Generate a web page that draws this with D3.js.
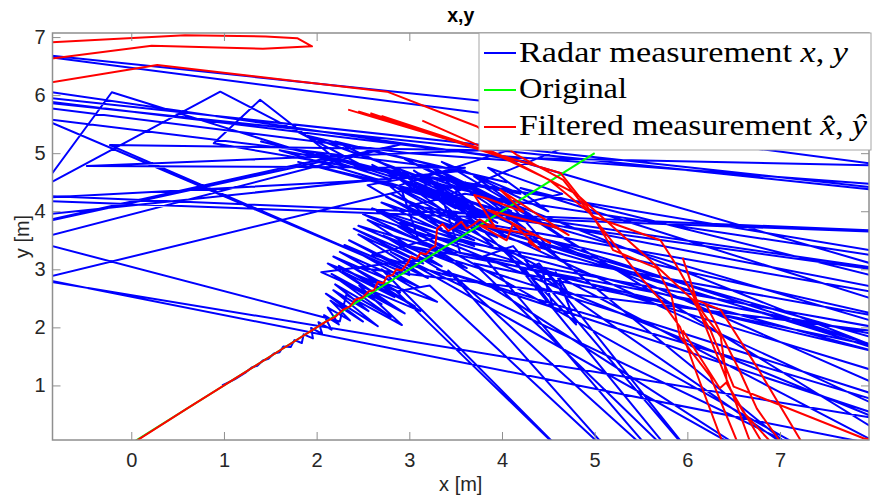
<!DOCTYPE html>
<html>
<head>
<meta charset="utf-8">
<script src="https://cdn.jsdelivr.net/npm/d3@7"></script>
<style>
  body { margin: 0; background: #fff; }
  svg { display: block; }
</style>
</head>
<body>
<svg id="chart" width="872" height="498"></svg>
<script>
// Axis ranges and ticks (metres)
const xDomain = [-0.85, 7.96];
const yDomain = [0.06, 7.07];
const xTicks = [0, 1, 2, 3, 4, 5, 6, 7];
const yTicks = [1, 2, 3, 4, 5, 6, 7];

// True target track
const originalPath = [[0, 0], [5, 5]];

// Raw radar measurements (x, y) in order of arrival; far outliers fall outside the axes
const radarPath = [
  [0.98,1.00],[1.06,1.06],[1.12,1.11],[1.18,1.17],[1.24,1.23],[1.30,1.31],[1.36,1.34],[1.42,1.43],
  [1.48,1.46],[1.54,1.55],[1.60,1.57],[1.64,1.67],[1.72,1.66],[1.76,1.78],[1.84,1.73],[1.86,1.88],
  [1.96,1.81],[1.94,1.99],[2.06,1.89],[2.02,2.09],[2.16,1.96],[2.08,2.21],[2.24,2.05],[2.12,2.34],
  [2.36,2.12],[2.15,2.46],[2.50,2.10],
  [2.10,2.58],[2.66,2.02],[2.18,2.64],[2.56,2.28],[2.20,2.74],[2.80,2.18],[2.24,2.82],[2.70,2.40],
  [2.16,2.92],[2.95,2.24],[2.28,2.96],[2.84,2.52],[2.24,3.06],[3.06,2.36],[2.38,3.04],
  [11.0,1.35],[3.30,3.55],
  [2.60,3.25],[3.45,2.88],[2.72,3.58],[3.62,3.02],[2.88,3.74],[3.55,3.28],[3.30,4.50],
  [-3.0,2.05],[-3.0,3.48],[11.0,-0.96],[11.0,-0.35],[-3.0,3.35],[-3.0,4.30],[2.25,2.10],
  [2.32,2.56],[2.92,2.04],[2.46,2.72],[3.12,2.28],[2.56,2.86],[3.30,2.44],[2.70,3.00],
  [4.75,-0.30],[2.86,2.62],[3.22,2.72],[5.25,-0.30],[3.42,2.98],[5.70,-0.30],[3.80,3.22],
  [4.12,3.40],[6.10,-0.30],[4.40,3.10],
  [4.25,3.00],[4.55,2.35],[4.42,3.05],[4.73,2.55],[4.58,2.95],[4.80,2.05],[4.35,2.80],
  [3.20,4.60],[11.0,2.52],[3.60,4.30],[3.00,4.10],[11.0,2.34],[3.80,4.00],[11.0,1.77],[3.40,3.90],
  [11.0,1.15],[3.50,3.30],[11.0,0.45],[3.90,3.70],[11.0,0.15],[4.50,3.50],[11.0,-1.05],[3.30,3.00],
  [11.0,-0.67],[3.00,3.40],[11.0,0.98],[4.20,4.40],[11.0,1.70],[4.00,4.95],[11.0,4.11],
  [11.0,3.87],[-3.0,6.22],[-3.0,6.32],[11.0,3.89],[11.0,3.47],[-3.0,4.40],[-3.0,4.30],[11.0,3.47],
  [11.0,4.20],[-3.0,7.09],[-3.0,7.04],[11.0,4.69],[4.10,4.92],[-3.0,6.30],[-3.0,6.55],[4.30,4.85],
  [3.00,5.00],[-3.0,6.20],[-3.0,6.00],[3.60,4.70],
  [-1.20,3.90],[-0.21,6.05],[2.80,4.55],[-1.20,4.21],[0.96,6.06],[2.60,4.70],[0.89,5.17],[1.39,5.92],
  [2.18,4.94],[-3.0,3.10],[2.90,5.15],[-3.0,2.70],[-3.0,6.98],[3.00,2.90],
  [-0.23,5.14],[3.80,5.05],[-0.48,4.78],[3.60,4.75],
  [2.55,4.45],[3.35,3.70],[2.70,4.55],[3.60,3.75],[2.85,4.60],[3.50,4.05],[2.60,4.80],[3.75,3.90],
  [3.05,4.70],[3.95,3.80],[3.10,4.45],[4.05,3.55],[3.25,4.75],[4.10,4.00],[2.95,4.90],[3.85,4.25],
  [3.40,4.60],[4.25,3.70],[3.60,4.50],[4.40,3.85],[3.20,4.35],[3.90,3.40],[2.75,4.25],[3.70,3.50],
  [2.60,4.05],[3.45,3.45],[2.50,3.95],[3.30,3.35],[2.45,3.75],[3.25,3.20],
  [2.05,2.95],[2.75,2.45],[2.12,3.10],[2.90,2.60],[2.18,3.22],[2.80,2.80],[2.25,3.30],[3.10,2.70],
  [2.30,3.42],[3.00,2.95],[2.35,3.50],[3.20,2.85],[2.45,3.60],[3.15,3.10],[2.40,3.70],[3.35,3.05],
  [2.55,3.85],[3.50,3.25],[2.65,4.00],[3.70,3.40],[2.70,4.15],[3.65,3.65],[2.80,4.30],[3.95,3.55],
  [2.90,4.40],[3.80,3.95],[3.00,4.55],[4.15,3.75],[3.10,4.65],[4.00,4.15],[3.20,4.80],[4.30,3.95],
  [3.35,4.85],[4.20,4.30],
  [1.60,5.05],[3.60,4.10],[1.80,4.85],[3.90,4.05],[2.00,5.00],[3.75,4.30],[1.40,5.20],[3.45,4.40],
  [1.90,5.30],[4.05,4.50],[2.20,5.20],[3.55,4.20],
  [11.0,0.70],[3.70,3.10],[5.90,-0.30],[4.05,3.30],[7.30,-0.30],[4.30,3.60],
  [3.95,3.95],[4.60,3.20],[4.10,4.10],[4.80,3.40],[3.70,4.60],[4.50,4.00],[3.85,4.75],[4.65,4.30],
  [3.60,3.90],[11.0,-1.50],[3.20,3.60],[11.0,-0.20],[4.00,4.20],[9.50,-1.20],[3.50,3.80],[11.0,0.30],
  [2.90,3.80],[7.50,-0.30],[2.80,3.30],[6.80,-0.30],[3.10,3.50],
  [2.90,4.45],[6.50,6.30],[3.30,4.20]
];

// Filtered estimates (x-hat, y-hat); null separates track pieces
const filteredPath = [
  [0.05,0.04],[0.60,0.60],[1.20,1.20],[1.80,1.80],[2.10,2.10],[2.20,2.18],[2.28,2.30],[2.36,2.36],
  [2.42,2.48],[2.50,2.52],[2.56,2.62],[2.62,2.64],[2.66,2.78],[2.72,2.76],[2.76,2.88],[2.82,2.90],
  [2.86,3.00],[2.92,2.98],[2.98,3.10],[3.02,3.22],[3.08,3.18],[3.12,3.28],[3.18,3.26],[3.24,3.36],
  [3.28,3.40],[3.30,3.70],[3.36,3.78],[3.42,3.66],[3.50,3.74],[3.56,3.82],[3.62,3.70],[3.70,3.78],
  [3.76,3.86],[3.84,3.78],[3.92,3.74],
  [3.70,4.28],[3.84,4.22],[4.23,3.99],[3.98,4.37],[4.72,3.59],[4.58,3.72],[3.85,4.02],[4.52,3.45],
  [4.38,3.58],[3.76,3.76],[4.05,3.50],[4.12,3.79],[4.41,3.33],[4.28,3.48],
  null,
  [-1.50,6.86],[0.58,7.03],[1.45,7.01],[1.79,6.98],[1.95,6.84],[1.42,6.80],[0.22,6.85],[-1.50,6.50],
  null,
  [-1.50,6.05],[0.28,6.52],[2.76,6.06],[3.73,5.46],[4.16,4.97],[4.66,4.54],[5.02,3.82],[5.46,2.93],
  [5.71,2.47],[5.92,2.01],[6.10,1.21],[6.37,0.06],[6.45,-0.30],
  null,
  [2.34,5.75],[3.95,4.98],[4.63,4.66],[4.92,4.08],[5.20,3.33],[5.67,3.02],[5.83,2.53],[5.92,1.84],
  [6.25,1.15],[6.53,0.06],[6.60,-0.30],
  null,
  [2.58,5.69],[4.00,4.93],[4.50,4.55],[5.00,3.90],[5.71,3.50],[5.87,3.10],[6.17,2.25],[6.36,1.84],
  [6.43,1.03],[6.79,0.06],[6.85,-0.30],
  null,
  [3.14,5.56],[4.05,4.92],[4.80,4.30],[5.50,3.30],[6.06,2.47],[6.25,1.95],[6.50,0.98],[7.90,0.09],
  [8.30,0.00],
  null,
  [2.45,5.72],[3.98,4.96],
  null,
  [2.70,5.64],[3.92,5.00],
  null,
  [5.95,3.20],[6.10,2.47],[6.36,2.30],[6.75,1.32],[7.22,0.06],[7.30,-0.20],
  null,
  [5.95,1.95],[6.35,0.95],[6.42,1.05],[6.60,0.55],[6.88,0.06],[6.95,-0.20],
  null,
  [6.05,2.60],[6.30,1.60],[6.50,0.80],[6.67,0.06],[6.70,-0.20],
  null,
  [6.20,2.40],[6.55,1.30],[6.75,0.60],[6.99,0.06],[7.05,-0.20]
];

// Plot frame in pixels
const L = 52.5, R = 869, T = 33, B = 440;
const axisGrey = "#8f8f8f";
const textDark = "#262626";

const svg = d3.select("#chart");
const x = d3.scaleLinear().domain(xDomain).range([L, R]);
const y = d3.scaleLinear().domain(yDomain).range([B, T]);

svg.append("defs").append("clipPath").attr("id", "plotClip")
  .append("rect").attr("x", L).attr("y", T).attr("width", R - L).attr("height", B - T);

const line = d3.line()
  .defined(d => d !== null)
  .x(d => x(d[0]))
  .y(d => y(d[1]));

const plot = svg.append("g").attr("clip-path", "url(#plotClip)");

plot.append("path").datum(radarPath)
  .attr("d", line).attr("fill", "none")
  .attr("stroke", "#0000ff").attr("stroke-width", 2).attr("stroke-linejoin", "round");

plot.append("path").datum(originalPath)
  .attr("d", line).attr("fill", "none")
  .attr("stroke", "#00ff00").attr("stroke-width", 2);

plot.append("path").datum(filteredPath)
  .attr("d", line).attr("fill", "none")
  .attr("stroke", "#ff0000").attr("stroke-width", 2).attr("stroke-linejoin", "round");

// Axes: ticks point inward on all four sides
const tickLen = 8;
function styleAxis(g) {
  g.select(".domain").remove();
  g.selectAll(".tick line").attr("stroke", axisGrey).attr("stroke-width", 1);
  g.selectAll(".tick text")
    .attr("fill", textDark)
    .style("font-family", "'Liberation Sans', Arial, sans-serif")
    .style("font-size", "20px");
}

svg.append("g").attr("transform", `translate(0,${B})`)
  .call(d3.axisBottom(x).tickValues(xTicks).tickSizeInner(-tickLen).tickSizeOuter(0)
    .tickPadding(12.5).tickFormat(d3.format("d")))
  .call(styleAxis);

svg.append("g").attr("transform", `translate(${L},0)`)
  .call(d3.axisLeft(y).tickValues(yTicks).tickSizeInner(-tickLen).tickSizeOuter(0)
    .tickPadding(7).tickFormat(d3.format("d")))
  .call(styleAxis);

svg.append("g").attr("transform", `translate(0,${T})`)
  .call(d3.axisTop(x).tickValues(xTicks).tickSizeInner(-tickLen).tickSizeOuter(0).tickFormat(""))
  .call(styleAxis);

svg.append("g").attr("transform", `translate(${R},0)`)
  .call(d3.axisRight(y).tickValues(yTicks).tickSizeInner(-tickLen).tickSizeOuter(0).tickFormat(""))
  .call(styleAxis);

svg.append("rect")
  .attr("x", L).attr("y", T).attr("width", R - L).attr("height", B - T)
  .attr("fill", "none").attr("stroke", axisGrey).attr("stroke-width", 1.5);

// Title and axis labels
const sans = "'Liberation Sans', Arial, sans-serif";
svg.append("text").attr("x", (L + R) / 2).attr("y", 21.5)
  .attr("text-anchor", "middle").attr("fill", "#000")
  .style("font-family", sans).style("font-size", "19.5px").style("font-weight", "bold")
  .text("x,y");

svg.append("text").attr("x", (L + R) / 2).attr("y", 491)
  .attr("text-anchor", "middle").attr("fill", textDark)
  .style("font-family", sans).style("font-size", "20px")
  .text("x [m]");

svg.append("text").attr("transform", `translate(29,${(T + B) / 2}) rotate(-90)`)
  .attr("text-anchor", "middle").attr("fill", textDark)
  .style("font-family", sans).style("font-size", "20px")
  .text("y [m]");

// Legend
const legend = svg.append("g");
legend.append("rect")
  .attr("x", 479).attr("y", T).attr("width", 392).attr("height", 117)
  .attr("fill", "#fff").attr("stroke", "#a6a6a6").attr("stroke-width", 1);

const legendItems = [
  { color: "#0000ff", ly: 53, ty: 61.7, len: 329, parts: [["Radar measurement ", false], ["x", true], [", ", false], ["y", true]] },
  { color: "#00ff00", ly: 90, ty: 98.3, len: 108, parts: [["Original", false]] },
  { color: "#ff0000", ly: 127, ty: 135, len: 348, parts: [["Filtered measurement ", false], ["x\u0302", true], [", ", false], ["y\u0302", true]] }
];

legendItems.forEach(item => {
  legend.append("line")
    .attr("x1", 484).attr("x2", 516).attr("y1", item.ly).attr("y2", item.ly)
    .attr("stroke", item.color).attr("stroke-width", 2);
  const t = legend.append("text")
    .attr("x", 519).attr("y", item.ty)
    .attr("textLength", item.len).attr("lengthAdjust", "spacingAndGlyphs")
    .attr("fill", "#000")
    .style("font-family", "'Liberation Serif', 'Times New Roman', serif")
    .style("font-size", "29px");
  item.parts.forEach(([s, ital]) => {
    t.append("tspan").style("font-style", ital ? "italic" : "normal").text(s);
  });
});
</script>
</body>
</html>
